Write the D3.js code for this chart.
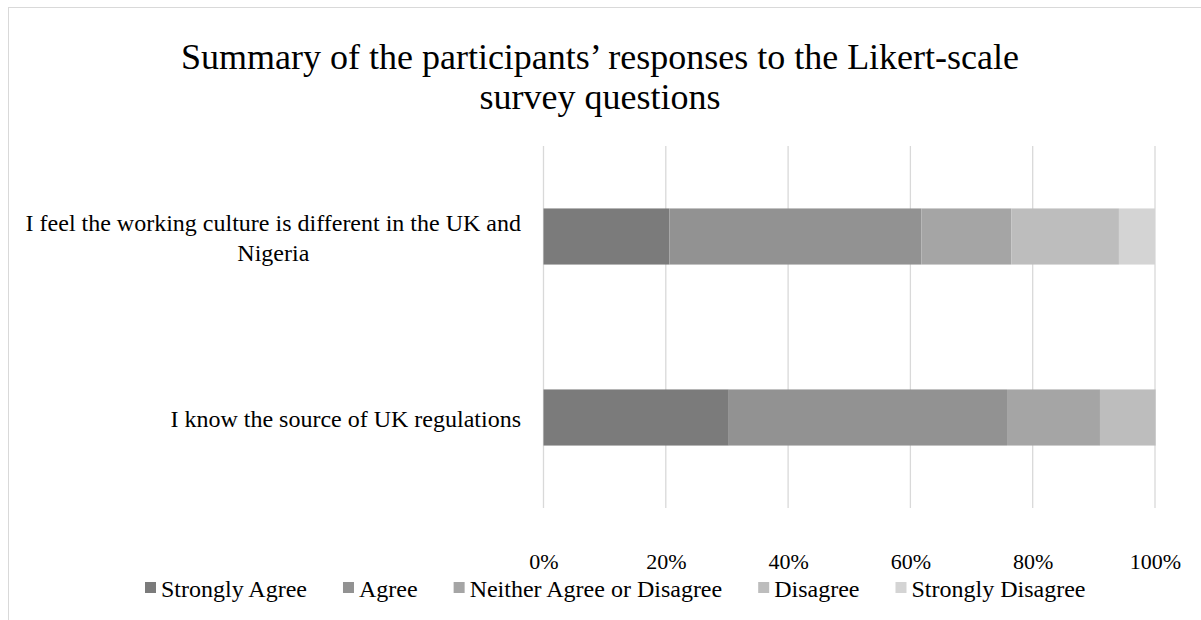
<!DOCTYPE html>
<html>
<head>
<meta charset="utf-8">
<script src="https://cdn.jsdelivr.net/npm/d3@7"></script>
<style>
  body { margin: 0; background: #fff; }
  text { font-family: "Liberation Serif", "Times New Roman", serif; fill: #000; }
</style>
</head>
<body>
<div id="chart"></div>
<script>
// chart values (percent of respondents)
var questions = [
  "I feel the working culture is different in the UK and Nigeria",
  "I know the source of UK regulations"
];
var responses = ["Strongly Agree", "Agree", "Neither Agree or Disagree", "Disagree", "Strongly Disagree"];
var workingCulture = [20.6, 41.2, 14.7, 17.6, 5.9];
var ukRegulations = [30.3, 45.5, 15.2, 9.1, 0];
var tickValues = [0, 20, 40, 60, 80, 100];
var colors = ["#7b7b7b", "#929292", "#a5a5a5", "#bdbdbd", "#d4d4d4"];

var svgWidth = 1201;
var svgHeight = 620;

var margin = { top: 146, right: 46, bottom: 112, left: 543.5 };
var chartWidth = svgWidth - margin.left - margin.right;
var chartHeight = svgHeight - margin.top - margin.bottom;

var svg = d3.select("#chart")
  .append("svg")
  .attr("width", svgWidth)
  .attr("height", svgHeight);

// chart area border (runs past the window on the right and bottom)
svg.append("rect")
  .attr("x", 8.5)
  .attr("y", 7.5)
  .attr("width", 1400)
  .attr("height", 800)
  .attr("fill", "#fff")
  .attr("stroke", "#d9d9d9");

// title
var title = svg.append("text")
  .attr("text-anchor", "middle")
  .style("font-size", "36px");
title.append("tspan").attr("x", 600).attr("y", 69)
  .text("Summary of the participants\u2019 responses to the Likert-scale");
title.append("tspan").attr("x", 600).attr("y", 109)
  .text("survey questions");

var chartGroup = svg.append("g")
  .attr("transform", `translate(${margin.left}, ${margin.top})`);

// build stacked rows
var rows = [workingCulture, ukRegulations].map(function(vals, i) {
  var row = { question: questions[i] };
  responses.forEach(function(r, j) { row[r] = vals[j]; });
  return row;
});
var stack = d3.stack().keys(responses);
var series = stack(rows);

var xScale = d3.scaleLinear()
  .domain([0, 100])
  .range([0, chartWidth]);

var yScale = d3.scaleBand()
  .domain(questions)
  .range([0, chartHeight])
  .paddingInner(0.69)
  .paddingOuter(0.345);

// gridlines
chartGroup.append("g")
  .selectAll("line")
  .data(tickValues)
  .enter()
  .append("line")
  .attr("x1", d => xScale(d))
  .attr("x2", d => xScale(d))
  .attr("y1", 0)
  .attr("y2", chartHeight)
  .attr("stroke", "#d9d9d9")
  .attr("stroke-width", 1.3);

// bars
chartGroup.append("g")
  .selectAll("g")
  .data(series)
  .enter()
  .append("g")
  .attr("fill", (d, i) => colors[i])
  .selectAll("rect")
  .data(d => d)
  .enter()
  .append("rect")
  .attr("x", d => xScale(d[0]))
  .attr("y", d => yScale(d.data.question))
  .attr("width", d => xScale(d[1]) - xScale(d[0]))
  .attr("height", yScale.bandwidth());

// x axis labels
var bottomAxis = d3.axisBottom(xScale)
  .tickValues(tickValues)
  .tickFormat(d => d + "%")
  .tickSize(0)
  .tickPadding(0);
var xAxisG = chartGroup.append("g")
  .attr("transform", `translate(0, ${chartHeight + 61})`)
  .call(bottomAxis);
xAxisG.select(".domain").remove();
xAxisG.selectAll("text")
  .attr("dy", 0)
  .attr("y", 0)
  .style("font-size", "22px")
  .attr("fill", "#000");

// category labels, wrapped and centred within a right-aligned block
var labelLines = {
  "I feel the working culture is different in the UK and Nigeria": ["I feel the working culture is different in the UK and", "Nigeria"],
  "I know the source of UK regulations": ["I know the source of UK regulations"]
};
var labelRight = 521;
questions.forEach(function(q) {
  var lines = labelLines[q];
  var cy = margin.top + yScale(q) + yScale.bandwidth() / 2;
  var g = svg.append("text")
    .attr("text-anchor", "middle")
    .style("font-size", "24px");
  var lineH = 30;
  var y0 = cy + 9 - (lines.length - 1) * lineH / 2;
  var spans = lines.map(function(l, k) {
    return g.append("tspan").attr("y", y0 + k * lineH).text(l);
  });
  var w = d3.max(spans, s => s.node().getComputedTextLength());
  spans.forEach(s => s.attr("x", labelRight - w / 2));
});

// legend
var legend = svg.append("g");
var lx = 0;
responses.forEach(function(r, i) {
  var item = legend.append("g").attr("transform", `translate(${lx}, 0)`);
  item.append("rect")
    .attr("x", 0).attr("y", -15)
    .attr("width", 11).attr("height", 11)
    .attr("fill", colors[i]);
  var t = item.append("text")
    .attr("x", 16).attr("y", 0)
    .style("font-size", "24px")
    .text(r);
  lx += 16 + t.node().getComputedTextLength() + 36;
});
legend.attr("transform", "translate(145, 597)");
</script>
</body>
</html>
